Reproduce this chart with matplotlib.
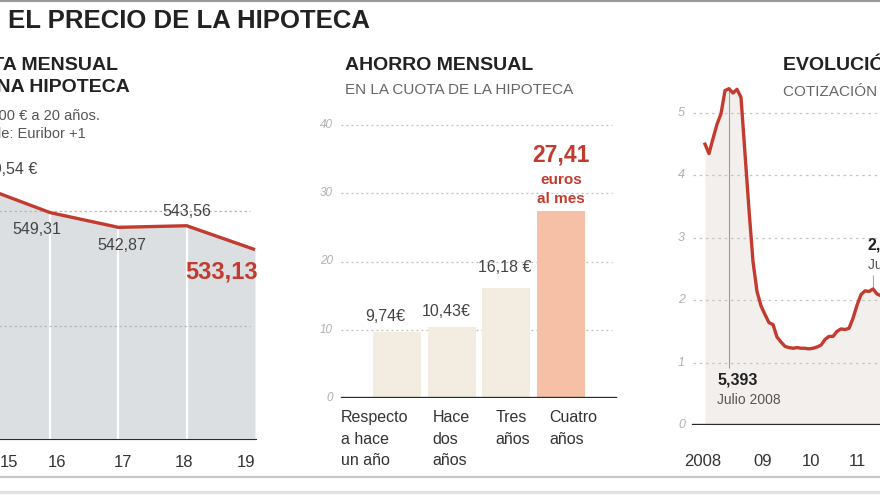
import numpy as np
import matplotlib.pyplot as plt
from matplotlib.lines import Line2D

plt.rcParams['font.family'] = ['Liberation Sans', 'DejaVu Sans']

# ==== datos ====
cuota_years = [15, 16, 17, 18, 19]
cuota = [560.54, 549.31, 542.87, 543.56, 533.13]
cuota_labels = ["560,54 €", "549,31", "542,87", "543,56", "533,13"]

ahorro_cats = ["Respecto\na hace\nun año", "Hace\ndos\naños", "Tres\naños", "Cuatro\naños"]
ahorro = [9.74, 10.43, 16.18, 27.41]
ahorro_labels = ["9,74€", "10,43€", "16,18 €", "27,41"]

# euribor mensual, enero 2008 - diciembre 2011
euribor = [4.50, 4.35, 4.59, 4.82, 4.99, 5.36, 5.39, 5.32, 5.38, 5.25, 4.35, 3.45,
           2.62, 2.14, 1.91, 1.77, 1.64, 1.61, 1.41, 1.33, 1.26, 1.24, 1.23, 1.24,
           1.23, 1.23, 1.22, 1.23, 1.25, 1.28, 1.37, 1.42, 1.42, 1.50, 1.54, 1.53,
           1.55, 1.71, 1.92, 2.09, 2.15, 2.14, 2.18, 2.10, 2.07, 2.11, 2.04, 2.00]
eur_x = 2008 + np.arange(len(euribor)) / 12
eur_years = ["2008", "09", "10", "11"]

RED = '#c23b2e'
DARK = '#2b2b2b'
W, H = 880, 495

fig = plt.figure(figsize=(W / 100, H / 100), dpi=100)


def px_axes(x0, y0, x1, y1):
    a = fig.add_axes([x0 / W, 1 - y1 / H, (x1 - x0) / W, (y1 - y0) / H])
    a.set_axis_off()
    return a


def ftext(x, y, s, **kw):
    kw.setdefault('va', 'center')
    fig.text(x / W, 1 - y / H, s, **kw)


def pt(px):
    return px * 0.72


# ==== marcos ====
fig.add_artist(Line2D([0, 1], [1 - 1 / H, 1 - 1 / H], color='#9a9a9a', lw=1.5))
fig.add_artist(Line2D([0, 1], [1 - 477 / H, 1 - 477 / H], color='#c8c8c8', lw=1.6))
fig.add_artist(Line2D([0, 1], [1 - 492 / H, 1 - 492 / H], color='#e2e2e2', lw=2.5))

ftext(8, 21, "EL PRECIO DE LA HIPOTECA", fontsize=18.5, fontweight='bold', color='#222')

# ==== 1. cuota mensual ====
ax1 = px_axes(-40, 150, 262, 440)
ax1.set_xlim(16 - 90 / 68.3, 19 + 7 / 68.3)
ax1.set_ylim(450, 450 + 290 / 2.29)
ax1.fill_between(cuota_years, cuota, 450, color='#dcdfe2', lw=0, zorder=1)
ax1.vlines(cuota_years[1:4], 450, cuota[1:4], color='white', lw=1.6, zorder=2)
for g in [500, 550]:
    ax1.axhline(g, xmax=0.96, color='#b8b8b8', lw=0.9, ls=(0, (2, 2)), zorder=2)
ax1.axhline(450, xmin=0.13, xmax=0.977, color=DARK, lw=2.2, zorder=4)
ax1.plot(cuota_years, cuota, color=RED, lw=2.4, zorder=5, solid_capstyle='butt')

offs = [(56, 17), (-13, -17), (3, -18), (0, 14), (3, -22)]
for i, (x, v) in enumerate(zip(cuota_years, cuota)):
    dx, dy = offs[i]
    if i == len(cuota) - 1:
        ax1.annotate(cuota_labels[i], (x, v), xytext=(pt(dx), pt(dy)), textcoords='offset points',
                     ha='right', va='center', fontsize=17, fontweight='bold', color=RED)
    elif i == 0:
        ax1.annotate(cuota_labels[i], (x, v), xytext=(pt(dx), pt(dy)), textcoords='offset points',
                     ha='right', va='center', fontsize=11.5, color='#444')
    else:
        ax1.annotate(cuota_labels[i], (x, v), xytext=(pt(dx), pt(dy)), textcoords='offset points',
                     ha='center', va='center', fontsize=11.5, color='#444')

tick_shift = [0.4, 0.1, 0.07, -0.04, -0.13]
for x, s in zip(cuota_years, tick_shift):
    ax1.text(x + s, 450 - 22 / 2.29, str(x), ha='center', va='center', fontsize=12, color='#333')

ftext(118, 65, "CUOTA MENSUAL", ha='right', fontsize=14, fontweight='bold', color='#222')
ftext(130, 88, "DE UNA HIPOTECA", ha='right', fontsize=14, fontweight='bold', color='#222')
ftext(100, 116, "Hipoteca de 100.000 € a 20 años.", ha='right', fontsize=10.5, color='#555')
ftext(86, 134, "Tipo aplicable: Euribor +1", ha='right', fontsize=10.5, color='#555')

# ==== 2. ahorro mensual ====
ax2 = px_axes(338, 110, 618, 398)
ax2.set_xlim(-(397 - 338) / 54.7, 3 + (618 - 561) / 54.7)
ax2.set_ylim(0, 288 / 6.825)
for g in [10, 20, 30, 40]:
    ax2.axhline(g, xmin=0.01, xmax=0.98, color='#bdbdbd', lw=0.9, ls=(0, (1.5, 2.5)), zorder=1)
    ax2.text(-(397 - 333) / 54.7, g, str(g), ha='right', va='center', fontsize=8.5,
             style='italic', color='#b0b0b0')
ax2.text(-(397 - 333) / 54.7, 0, "0", ha='right', va='center', fontsize=8.5,
         style='italic', color='#b0b0b0')
colors = ['#f3ede1', '#f3ede1', '#f3ece0', '#f5c0a6']
ax2.bar(range(len(ahorro)), ahorro, width=0.88, color=colors, zorder=2)
ax2.axhline(0, xmin=0.015, xmax=0.99, color=DARK, lw=2.4, zorder=3)

lab_off = [(-12, 15), (-5, 15), (-2, 20)]
for i in range(3):
    dx, dy = lab_off[i]
    ax2.annotate(ahorro_labels[i], (i, ahorro[i]), xytext=(pt(dx), pt(dy)), textcoords='offset points',
                 ha='center', va='center', fontsize=11.5, color='#444')
ax2.annotate(ahorro_labels[3], (3, ahorro[3]), xytext=(0, pt(56)), textcoords='offset points',
             ha='center', va='center', fontsize=16.5, fontweight='bold', color=RED)
ax2.annotate("euros", (3, ahorro[3]), xytext=(0, pt(31)), textcoords='offset points',
             ha='center', va='center', fontsize=11, fontweight='bold', color=RED)
ax2.annotate("al mes", (3, ahorro[3]), xytext=(0, pt(12)), textcoords='offset points',
             ha='center', va='center', fontsize=11, fontweight='bold', color=RED)

cat_dx = [-56, -19, -11, -12]
for i, c in enumerate(ahorro_cats):
    ax2.text(i + cat_dx[i] / 54.7, -12 / 6.825, c, ha='left', va='top', fontsize=11.5,
             color='#333', linespacing=1.55)

ftext(345, 65, "AHORRO MENSUAL", fontsize=14, fontweight='bold', color='#222')
ftext(345, 90, "EN LA CUOTA DE LA HIPOTECA", fontsize=11, color='#666')

# ==== 3. euribor ====
ax3 = px_axes(690, 60, 1000, 425)
ax3.set_xlim(2008 - 15 / 48, 2008 + 295 / 48)
ax3.set_ylim(0, 365 / 62.4)
ax3.fill_between(eur_x, euribor, 0, color='#f2efed', lw=0, zorder=1)
for g in [1, 2, 3, 4, 5]:
    ax3.axhline(g, xmin=0.01, color='#c4c4c4', lw=0.9, ls=(0, (2, 3)), zorder=2)
for g in range(6):
    ax3.text(2008 - 20 / 48, g, str(g), ha='right', va='center', fontsize=9,
             style='italic', color='#b0b0b0')
ax3.axhline(0, xmin=0.01, color=DARK, lw=2.4, zorder=4)

i_max = int(np.argmax(euribor))
ax3.vlines(eur_x[i_max], 0.91, euribor[i_max], color='#9a9a9a', lw=0.8, zorder=3)
ax3.plot(eur_x, euribor, color=RED, lw=2.4, zorder=5)
ax3.text(eur_x[i_max] - 12 / 48, (425 - 380) / 62.4, "5,393", ha='left', va='center',
         fontsize=11.5, fontweight='bold', color='#222')
ax3.text(eur_x[i_max] - 12 / 48, (425 - 400) / 62.4, "Julio 2008", ha='left', va='center',
         fontsize=10, color='#555')

i_j11 = 42
ax3.vlines(eur_x[i_j11], euribor[i_j11], 2.4, color='#b0a0c0', lw=0.8, zorder=3)
ax3.text(eur_x[i_j11] - 5 / 48, (425 - 245) / 62.4, "2,183", ha='left', va='center',
         fontsize=11.5, fontweight='bold', color='#222')
ax3.text(eur_x[i_j11] - 5 / 48, (425 - 265) / 62.4, "Julio 2011", ha='left', va='center',
         fontsize=10, color='#555')

tick_x = [2008 - 2 / 48, 2009 + 10 / 48, 2010 + 10 / 48, 2011 + 8 / 48]
for x, s in zip(tick_x, eur_years):
    ax3.text(x, -37 / 62.4, s, ha='center', va='center', fontsize=12, color='#333')

ftext(783, 65, "EVOLUCIÓN DEL EURÍBOR", fontsize=14, fontweight='bold', color='#222')
ftext(783, 92, "COTIZACIÓN MENSUAL", fontsize=11, color='#666')

fig.savefig('out.png', dpi=100)
